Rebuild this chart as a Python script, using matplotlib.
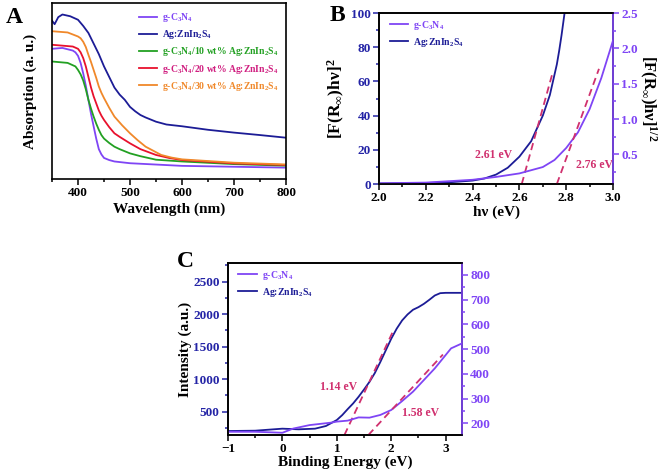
import matplotlib.pyplot as plt
import numpy as np
from matplotlib.ticker import MultipleLocator

plt.rcParams['font.family'] = ['Liberation Serif', 'DejaVu Serif']
plt.rcParams['font.weight'] = 'bold'
plt.rcParams['axes.labelweight'] = 'bold'
plt.rcParams['mathtext.fontset'] = 'custom'
plt.rcParams['mathtext.rm'] = 'Liberation Serif:bold'
plt.rcParams['mathtext.it'] = 'Liberation Serif:bold'
plt.rcParams['mathtext.bf'] = 'Liberation Serif:bold'

# ── Colours ──────────────────────────────────────────────────────────────────
PURPLE = '#7F45F5'
NAVY = '#1C1C96'
GREEN = '#22A022'
RED = '#E8112D'
ORANGE = '#F0882A'
DASH = '#D0306E'
TICK_NAVY = '#2424A6'

# ── Panel A: UV-vis absorption ───────────────────────────────────────────────
wl_gcn = [350, 370, 390, 395, 400, 405, 410, 415, 420, 425, 430, 435, 440, 445, 450, 460, 470,
          500, 600, 700, 800]
abs_gcn = [0.74, 0.745, 0.73, 0.72, 0.70, 0.66, 0.60, 0.53, 0.45, 0.37, 0.30, 0.23, 0.17, 0.14,
           0.12, 0.108, 0.10, 0.09, 0.075, 0.07, 0.065]

wl_azis = [350, 355, 362, 370, 385, 400, 410, 420, 430, 440, 450, 460, 470, 480, 490, 500, 510,
           520, 530, 550, 570, 600, 650, 700, 750, 800]
abs_azis = [0.90, 0.88, 0.92, 0.935, 0.925, 0.905, 0.87, 0.83, 0.77, 0.71, 0.64, 0.58, 0.52, 0.48,
            0.45, 0.41, 0.385, 0.364, 0.35, 0.326, 0.31, 0.30, 0.28, 0.264, 0.25, 0.235]

wl_10 = [350, 380, 395, 400, 405, 410, 415, 420, 425, 430, 435, 440, 445, 450, 460, 470, 480,
         500, 520, 550, 600, 700, 800]
abs_10 = [0.668, 0.66, 0.64, 0.62, 0.595, 0.56, 0.51, 0.45, 0.40, 0.355, 0.315, 0.28, 0.25, 0.23,
          0.205, 0.184, 0.17, 0.146, 0.13, 0.11, 0.10, 0.085, 0.076]

wl_20 = [350, 390, 400, 405, 410, 415, 420, 425, 430, 435, 440, 445, 450, 460, 470, 480, 500,
         520, 550, 575, 600, 700, 800]
abs_20 = [0.763, 0.753, 0.74, 0.72, 0.687, 0.64, 0.58, 0.52, 0.47, 0.43, 0.39, 0.36, 0.336, 0.295,
          0.26, 0.24, 0.203, 0.17, 0.137, 0.12, 0.108, 0.089, 0.08]

wl_30 = [350, 380, 400, 405, 410, 415, 420, 425, 430, 435, 440, 445, 450, 460, 470, 485, 500,
         515, 530, 560, 580, 600, 700, 800]
abs_30 = [0.84, 0.833, 0.81, 0.80, 0.78, 0.75, 0.706, 0.665, 0.62, 0.575, 0.526, 0.49, 0.46,
          0.405, 0.355, 0.305, 0.26, 0.22, 0.184, 0.137, 0.122, 0.112, 0.093, 0.083]

labels_A = ['g-C$_3$N$_4$', 'Ag:ZnIn$_2$S$_4$',
            'g-C$_3$N$_4$/10 wt% Ag:ZnIn$_2$S$_4$',
            'g-C$_3$N$_4$/20 wt% Ag:ZnIn$_2$S$_4$',
            'g-C$_3$N$_4$/30 wt% Ag:ZnIn$_2$S$_4$']

# ── Panel B: Tauc plots ──────────────────────────────────────────────────────
hv_azis = [2.0, 2.2, 2.3, 2.4, 2.45, 2.5, 2.55, 2.6, 2.65, 2.7, 2.73, 2.76, 2.77, 2.78, 2.793]
tauc_azis = [0.3, 0.6, 1.0, 2.0, 3.2, 5.5, 9.5, 16, 25, 40, 52, 70, 78, 87, 100]

hv_gcn = [2.0, 2.2, 2.3, 2.4, 2.5, 2.6, 2.7, 2.75, 2.8, 2.85, 2.9, 2.95, 3.0]
tauc_gcn = [0.09, 0.10, 0.12, 0.14, 0.18, 0.23, 0.32, 0.42, 0.59, 0.81, 1.14, 1.58, 2.11]

eg_B = [2.61, 2.76]
tang_B_end = [(2.743, 65.6), (2.94, 1.71)]

# ── Panel C: VB-XPS ──────────────────────────────────────────────────────────
be_azis = [-1.0, -0.5, 0.0, 0.3, 0.6, 0.8, 1.0, 1.1, 1.2, 1.3, 1.4, 1.5, 1.6, 1.7, 1.8, 1.9,
           2.0, 2.1, 2.2, 2.3, 2.4, 2.5, 2.6, 2.7, 2.8, 2.9, 3.0, 3.3]
int_azis = [204, 209, 240, 230, 240, 281, 373, 449, 541, 628, 730, 842, 959, 1097, 1265, 1444,
            1622, 1776, 1903, 1995, 2067, 2107, 2158, 2220, 2286, 2322, 2327, 2327]

be_gcn = [-1.0, -0.5, 0.0, 0.2, 0.5, 0.9, 1.0, 1.2, 1.4, 1.6, 1.8, 2.0, 2.2, 2.4, 2.6,
          2.8, 2.9, 3.0, 3.1, 3.3]
int_gcn = [166, 166, 162, 179, 193, 203, 207, 211, 224, 223, 234, 254, 290, 328, 375,
           422, 449, 476, 503, 523]

eg_C = [1.14, 1.58]
tang_C_end = [(2.05, 1767), (2.95, 478)]

fig = plt.figure(figsize=(6.61, 4.70), dpi=100)
DASHES = (0, (4, 2.5))


def style_axes(ax):
    for s in ax.spines.values():
        s.set_linewidth(1.2)
    ax.tick_params(which='both', direction='out', width=1.1, labelsize=9.5, pad=2)
    ax.tick_params(which='major', length=4)
    ax.tick_params(which='minor', length=2.5)


def colour_legend(ax, handles, labels, colours, **kw):
    leg = ax.legend(handles, labels, frameon=False, handlelength=1.9, handletextpad=0.5,
                    borderaxespad=0.2, **kw)
    for t, c in zip(leg.get_texts(), colours):
        t.set_color(c)
    return leg


# ── A ──
axA = fig.add_axes([0.0787, 0.619, 0.354, 0.3745])
style_axes(axA)
linesA = []
for x, y, c in zip([wl_gcn, wl_azis, wl_10, wl_20, wl_30],
                   [abs_gcn, abs_azis, abs_10, abs_20, abs_30],
                   [PURPLE, NAVY, GREEN, RED, ORANGE]):
    linesA += axA.plot(x, y, color=c, lw=1.3)
axA.set_xlim(350, 800)
axA.set_ylim(0, 1)
axA.set_yticks([])
axA.xaxis.set_major_locator(MultipleLocator(100))
axA.xaxis.set_minor_locator(MultipleLocator(50))
axA.set_xlabel('Wavelength (nm)', fontsize=11, labelpad=2)
axA.set_ylabel('Absorption (a. u.)', fontsize=11, labelpad=11)
colour_legend(axA, linesA, labels_A, [PURPLE, NAVY, GREEN, '#D01F80', ORANGE],
              loc='upper right', bbox_to_anchor=(0.99, 0.985), fontsize=6.9, labelspacing=0.42)
fig.text(0.008, 0.952, 'A', fontsize=17, fontweight='bold')

# ── B ──
axB = fig.add_axes([0.5734, 0.6085, 0.354, 0.3638])
style_axes(axB)
axB2 = axB.twinx()
style_axes(axB2)
lB1, = axB.plot(hv_azis, tauc_azis, color=NAVY, lw=1.3)
lB2, = axB2.plot(hv_gcn, tauc_gcn, color=PURPLE, lw=1.3)
axB.plot([eg_B[0], tang_B_end[0][0]], [0, tang_B_end[0][1]], color=DASH, lw=1.3, ls=DASHES)
axB2.plot([eg_B[1], tang_B_end[1][0]], [0.08, tang_B_end[1][1]], color=DASH, lw=1.3, ls=DASHES)
axB.set_xlim(2.0, 3.0)
axB.set_ylim(0, 100)
axB2.set_ylim(0.08, 2.5)
axB.xaxis.set_major_locator(MultipleLocator(0.2))
axB.xaxis.set_minor_locator(MultipleLocator(0.1))
axB.yaxis.set_major_locator(MultipleLocator(20))
axB.yaxis.set_minor_locator(MultipleLocator(10))
axB2.yaxis.set_major_locator(MultipleLocator(0.5))
axB2.yaxis.set_minor_locator(MultipleLocator(0.25))
axB.tick_params(axis='y', which='both', colors=TICK_NAVY)
axB2.tick_params(axis='y', which='both', colors=PURPLE)
axB2.spines['right'].set_color(PURPLE)
axB.set_xlabel('hν (eV)', fontsize=11, labelpad=1)
axB.set_ylabel('[F(R$_\\infty$)hν]$^2$', fontsize=12.5, labelpad=3)
axB2.set_ylabel('[F(R$_\\infty$)hν]$^{1/2}$', fontsize=12, rotation=270, va='center', ha='center')
axB2.yaxis.set_label_coords(1.148, 0.5)
axB.text(2.57, 17, '2.61 eV', color=DASH, fontsize=8.5, ha='right', va='center')
axB.text(2.84, 11, '2.76 eV', color=DASH, fontsize=8.5, ha='left', va='center')
colour_legend(axB, [lB2, lB1], ['g-C$_3$N$_4$', 'Ag:ZnIn$_2$S$_4$'], [PURPLE, NAVY],
              loc='upper left', bbox_to_anchor=(0.02, 1.0), fontsize=7, labelspacing=0.4)
fig.text(0.498, 0.955, 'B', fontsize=17, fontweight='bold')

# ── C ──
axC = fig.add_axes([0.3449, 0.0745, 0.354, 0.366])
style_axes(axC)
axC2 = axC.twinx()
style_axes(axC2)
lC1, = axC.plot(be_azis, int_azis, color=NAVY, lw=1.3)
lC2, = axC2.plot(be_gcn, int_gcn, color=PURPLE, lw=1.3)
axC.plot([eg_C[0], tang_C_end[0][0]], [143, tang_C_end[0][1]], color=DASH, lw=1.3, ls=DASHES)
axC2.plot([eg_C[1], tang_C_end[1][0]], [153, tang_C_end[1][1]], color=DASH, lw=1.3, ls=DASHES)
axC.set_xlim(-1.0, 3.3)
axC.set_ylim(143, 2786)
axC2.set_ylim(153, 848)
axC.xaxis.set_major_locator(MultipleLocator(1))
axC.xaxis.set_minor_locator(MultipleLocator(0.5))
axC.yaxis.set_major_locator(MultipleLocator(500))
axC.yaxis.set_minor_locator(MultipleLocator(250))
axC2.yaxis.set_major_locator(MultipleLocator(100))
axC2.yaxis.set_minor_locator(MultipleLocator(50))
axC.tick_params(axis='y', which='both', colors=TICK_NAVY)
axC2.tick_params(axis='y', which='both', colors=PURPLE)
axC2.spines['right'].set_color(PURPLE)
axC.set_xlabel('Binding Energy (eV)', fontsize=11, labelpad=0)
axC.set_ylabel('Intensity (a.u.)', fontsize=11, labelpad=1)
axC.text(1.37, 883, '1.14 eV', color=DASH, fontsize=8.5, ha='right', va='center')
axC.text(2.2, 475, '1.58 eV', color=DASH, fontsize=8.5, ha='left', va='center')
colour_legend(axC, [lC2, lC1], ['g-C$_3$N$_4$', 'Ag:ZnIn$_2$S$_4$'], [PURPLE, NAVY],
              loc='upper left', bbox_to_anchor=(0.02, 1.0), fontsize=7, labelspacing=0.4)
fig.text(0.268, 0.432, 'C', fontsize=17, fontweight='bold')

fig.savefig('out.png', dpi=100)
